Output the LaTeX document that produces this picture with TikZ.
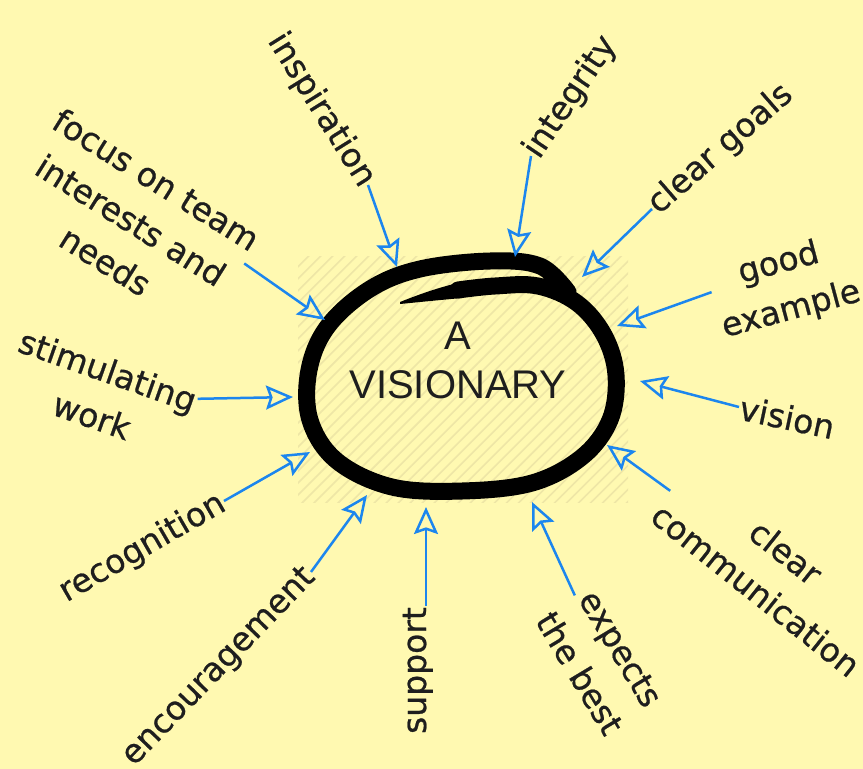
\documentclass[tikz,border=0pt]{standalone}
\usepackage{fontspec}
\setmainfont{DejaVu Sans}
\newfontfamily\ideafont[FakeBold=0.7]{DejaVu Sans}
\newfontfamily\hubfont{Liberation Sans}
\usetikzlibrary{arrows.meta,patterns.meta}
\definecolor{NoteYellow}{RGB}{255,249,177}
\definecolor{HatchYellow}{RGB}{238,230,166}
\definecolor{ArrowBlue}{RGB}{28,134,238}
\definecolor{InkBlack}{RGB}{30,30,30}
\tikzset{
    idea/.style={text=InkBlack, font=\ideafont\fontsize{33}{48}\selectfont, inner sep=1pt, align=center},
    pointer/.style={draw=ArrowBlue, line width=2.5pt, arrows={-Stealth[open, length=27pt, width=24pt, inset=4pt]}}
}

\begin{document}
\begin{tikzpicture}[x=1pt,y=-1pt]
    % Sheet
    \fill[NoteYellow] (0,0) rectangle (863,769);
    \useasboundingbox (0,0) rectangle (863,769);

    % Hatched patch and hand drawn ring
    \fill[pattern={Lines[angle=45,distance=8.5pt,line width=1.6pt]}, pattern color=HatchYellow] (298,256) rectangle (628,502);
    \fill[black] (400,302) .. controls (420,294) and (440,287) .. (462,282) -- (462,298) .. controls (440,300) and (420,302) .. (400,304) -- cycle;
    \draw[black, line width=17pt, line cap=round, line join=round] plot[smooth, tension=0.6] coordinates {(458,290) (495,286) (538,286) (577,303) (604,335) (616,375) (610,420) (582,457) (532,483) (462,491) (392,487) (337,461) (310,420) (309,370) (328,326) (370,289) (420,269) (490,261) (540,266) (568,292)};
    \node[font=\hubfont\fontsize{40}{49}\selectfont, text=InkBlack, align=center] (hub) at (458,360) {A\\VISIONARY};

    % Qualities
    \node[idea, rotate=-58, anchor=east] (insp) at (368,185) {inspiration};
    \node[idea, rotate=56, anchor=west] (integ) at (531,156) {integrity};
    \node[idea, rotate=41, anchor=west] (goals) at (652,209) {clear goals};
    \node[idea, rotate=15] (example) at (785,287) {good\\example};
    \node[idea, rotate=-12, anchor=west] (vision) at (739,407) {vision};
    \node[idea, rotate=-38.5] (comm) at (771,571) {clear\\communication};
    \node[idea, rotate=-59] (best) at (600,661) {expects\\the best};
    \node[idea, rotate=90, anchor=base east] (support) at (426,606) {support};
    \node[idea, rotate=46, anchor=east] (enc) at (311,572) {encouragement};
    \node[idea, rotate=30, anchor=east] (recog) at (224,501) {recognition};
    \node[idea, rotate=-19.4] (stim) at (100,393) {stimulating\\work};
    \node[idea, rotate=-32] (focus) at (131,220) {focus on team\\interests and\\needs};

    % Arrow tips on the ring
    \coordinate (insp-tip) at (397,267);
    \coordinate (integ-tip) at (515,257);
    \coordinate (goals-tip) at (582,277);
    \coordinate (example-tip) at (617,326);
    \coordinate (vision-tip) at (640,381);
    \coordinate (comm-tip) at (607,445);
    \coordinate (best-tip) at (532,502);
    \coordinate (support-tip) at (426,507);
    \coordinate (enc-tip) at (367,495);
    \coordinate (recog-tip) at (310,452);
    \coordinate (stim-tip) at (293,397);
    \coordinate (focus-tip) at (325,320);

    % Arrows
    \draw[pointer] (insp.east) -- (insp-tip);
    \draw[pointer] (integ.west) -- (integ-tip);
    \draw[pointer] (goals.west) -- (goals-tip);
    \draw[pointer] (example.169) -- (example-tip);
    \draw[pointer] (vision.west) -- (vision-tip);
    \draw[pointer] (comm.west) -- (comm-tip);
    \draw[pointer] (best.170) -- (best-tip);
    \draw[pointer] (support.base east) -- (support-tip);
    \draw[pointer] (enc.east) -- (enc-tip);
    \draw[pointer] (recog.east) -- (recog-tip);
    \draw[pointer] (stim.16) -- (stim-tip);
    \draw[pointer] (focus.11) -- (focus-tip);
\end{tikzpicture}
\end{document}
